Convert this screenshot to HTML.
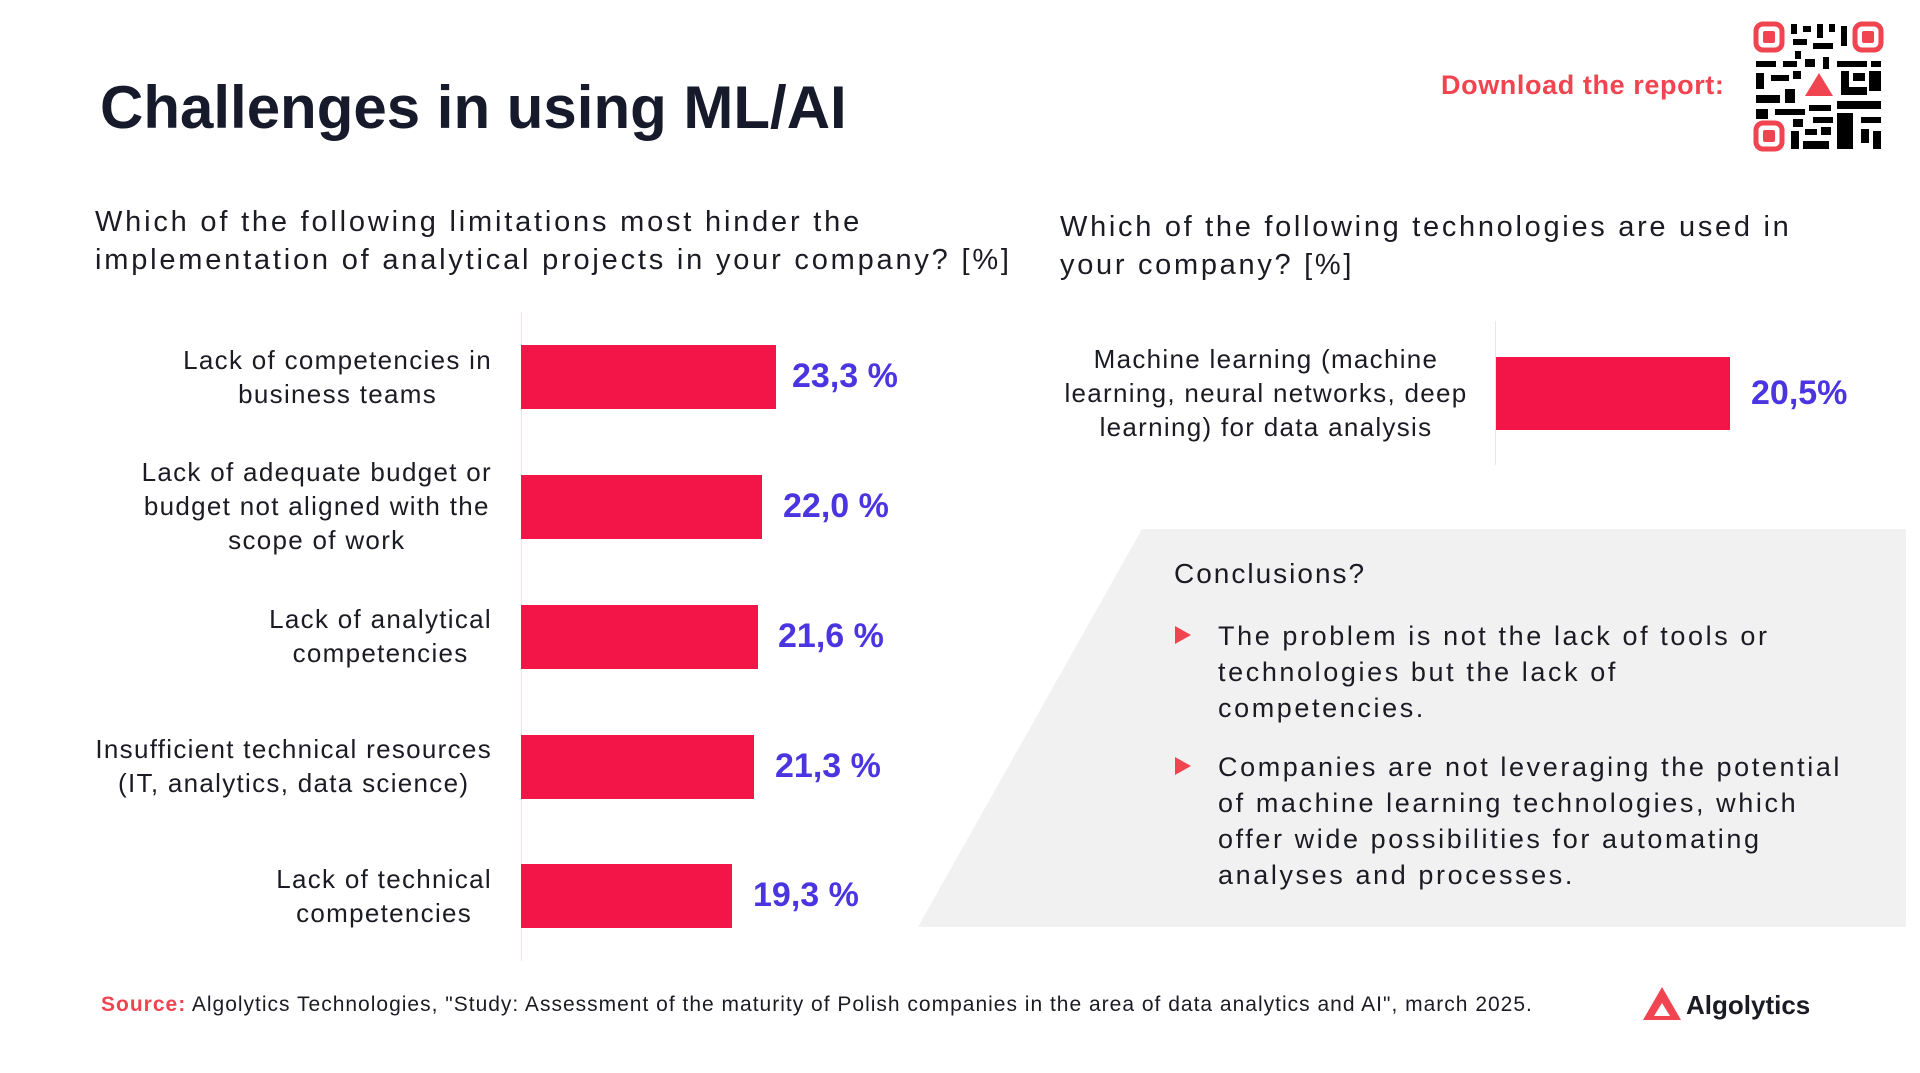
<!DOCTYPE html>
<html><head><meta charset="utf-8"><style>
body{margin:0;width:1920px;height:1073px;background:#fff;position:relative;overflow:hidden;font-family:"Liberation Sans",sans-serif;color:#1b1b24}
.a{position:absolute;white-space:nowrap}
.bar{position:absolute;background:#f41548;height:64px;left:521px}
.val{position:absolute;color:#4a35e0;font-weight:bold;font-size:34px;white-space:nowrap}
.lab{position:absolute;text-align:center;font-size:26px;line-height:34px;white-space:nowrap;letter-spacing:1.3px}
.tri{position:absolute;width:0;height:0;border-top:9px solid transparent;border-bottom:9px solid transparent;border-left:16px solid #f04450}
</style></head><body>
<div class="a" style="left:100px;top:73px;font-size:60px;font-weight:bold;color:#161a2a">Challenges in using ML/AI</div>
<div class="a" style="left:1441px;top:70px;font-size:27px;font-weight:bold;color:#f04450;letter-spacing:0.6px">Download the report:</div>
<svg class="a" style="left:1753px;top:21px" width="131" height="131" viewBox="0 0 131 131">
<g fill="none" stroke="#f04450" stroke-width="5"><rect x="3" y="3" width="26" height="26" rx="7"/><rect x="102" y="3" width="26" height="26" rx="7"/><rect x="3" y="102" width="26" height="26" rx="7"/></g>
<g fill="#f04450"><rect x="10" y="10" width="12" height="12" rx="2"/><rect x="109" y="10" width="12" height="12" rx="2"/><rect x="10" y="109" width="12" height="12" rx="2"/><polygon points="66,52 80,75 52,75"/></g>
<g fill="#000">
<rect x="38" y="3" width="6" height="10"/><rect x="50" y="5" width="8" height="6"/><rect x="64" y="3" width="6" height="14"/><rect x="76" y="3" width="6" height="8"/><rect x="88" y="5" width="6" height="20"/><rect x="40" y="18" width="14" height="6"/><rect x="60" y="22" width="20" height="6"/><rect x="42" y="30" width="6" height="8"/>
<rect x="3" y="40" width="20" height="6"/><rect x="30" y="40" width="14" height="6"/><rect x="52" y="38" width="10" height="8"/><rect x="70" y="36" width="6" height="12"/><rect x="84" y="40" width="30" height="6"/><rect x="118" y="40" width="10" height="6"/>
<rect x="3" y="52" width="8" height="16"/><rect x="18" y="54" width="18" height="6"/><rect x="40" y="50" width="8" height="8"/><rect x="88" y="50" width="8" height="24"/><rect x="100" y="52" width="12" height="8"/><rect x="116" y="50" width="12" height="20"/>
<rect x="3" y="74" width="24" height="8"/><rect x="32" y="68" width="10" height="14"/><rect x="96" y="66" width="18" height="8"/><rect x="84" y="80" width="44" height="8"/>
<rect x="3" y="88" width="12" height="10"/><rect x="22" y="88" width="30" height="6"/><rect x="56" y="84" width="22" height="6"/><rect x="40" y="98" width="10" height="8"/><rect x="60" y="96" width="20" height="6"/><rect x="84" y="92" width="16" height="36"/><rect x="108" y="96" width="20" height="6"/><rect x="108" y="108" width="8" height="14"/><rect x="120" y="110" width="8" height="18"/>
<rect x="38" y="110" width="8" height="18"/><rect x="52" y="108" width="12" height="6"/><rect x="50" y="120" width="26" height="8"/><rect x="68" y="106" width="10" height="8"/>
</g></svg>
<div class="a" style="left:95px;top:203px;font-size:29px;line-height:38px;letter-spacing:2.8px">Which of the following limitations most hinder the<br>implementation of analytical projects in your company? [%]</div>
<div class="a" style="left:1060px;top:208px;font-size:29px;line-height:38px;letter-spacing:2.7px">Which of the following technologies are used in<br>your company? [%]</div>
<div class="a" style="left:521px;top:312px;width:1px;height:649px;background:#fbe0e4"></div>
<div class="bar" style="top:345px;width:255px"></div>
<div class="bar" style="top:475px;width:241px"></div>
<div class="bar" style="top:605px;width:237px"></div>
<div class="bar" style="top:735px;width:233px"></div>
<div class="bar" style="top:864px;width:211px"></div>
<div class="val" style="left:792px;top:357px">23,3 %</div>
<div class="val" style="left:783px;top:487px">22,0 %</div>
<div class="val" style="left:778px;top:617px">21,6 %</div>
<div class="val" style="left:775px;top:747px">21,3 %</div>
<div class="val" style="left:753px;top:876px">19,3 %</div>
<div class="lab" style="right:1428px;top:343px">Lack of competencies in<br>business teams</div>
<div class="lab" style="right:1428px;top:455px">Lack of adequate budget or<br>budget not aligned with the<br>scope of work</div>
<div class="lab" style="right:1428px;top:602px">Lack of analytical<br>competencies</div>
<div class="lab" style="right:1428px;top:732px">Insufficient technical resources<br>(IT, analytics, data science)</div>
<div class="lab" style="right:1428px;top:862px">Lack of technical<br>competencies</div>
<div class="a" style="left:1495px;top:321px;width:1px;height:144px;background:#fbe0e4"></div>
<div class="bar" style="left:1496px;top:357px;width:234px;height:73px"></div>
<div class="val" style="left:1751px;top:374px">20,5%</div>
<div class="lab" style="left:1046px;width:440px;top:342px">Machine learning (machine<br>learning, neural networks, deep<br>learning) for data analysis</div>
<svg class="a" style="left:0;top:0" width="1920" height="1073"><polygon points="1142,529 1906,529 1906,927 918,927" fill="#f1f1f1"/></svg>
<div class="a" style="left:1174px;top:558px;font-size:28px;letter-spacing:2px">Conclusions?</div>
<div class="tri" style="left:1175px;top:626px"></div>
<div class="tri" style="left:1175px;top:757px"></div>
<div class="a" style="left:1218px;top:618px;font-size:27px;line-height:36px;letter-spacing:2.6px">The problem is not the lack of tools or<br>technologies but the lack of<br>competencies.</div>
<div class="a" style="left:1218px;top:749px;font-size:27px;line-height:36px;letter-spacing:2.6px">Companies are not leveraging the potential<br>of machine learning technologies, which<br>offer wide possibilities for automating<br>analyses and processes.</div>
<div class="a" style="left:101px;top:993px;font-size:21px;letter-spacing:1px"><b style="color:#f04450">Source:</b> Algolytics Technologies, "Study: Assessment of the maturity of Polish companies in the area of data analytics and AI", march 2025.</div>
<svg class="a" style="left:1643px;top:987px" width="38" height="33"><polygon points="19,0 38,33 0,33" fill="#f04450"/><polygon points="19,16 27,29 11,29" fill="#fff"/></svg>
<div class="a" style="left:1686px;top:990px;font-size:26px;font-weight:bold;color:#1b1b24">Algolytics</div>
</body></html>
